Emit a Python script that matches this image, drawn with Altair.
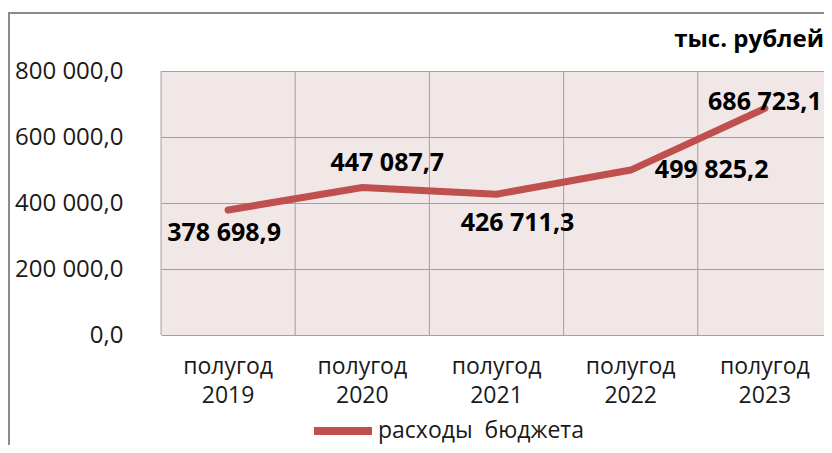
import altair as alt
import pandas as pd

periods = ["полугод 2019", "полугод 2020", "полугод 2021", "полугод 2022", "полугод 2023"]
expenses = [378698.9, 447087.7, 426711.3, 499825.2, 686723.1]
series_name = "расходы\u00a0\u00a0бюджета"
unit_label = "тыс. рублей"
y_ticks = [0, 200000, 400000, 600000, 800000]

df = pd.DataFrame({"period": periods, "value": expenses, "series": [series_name] * len(periods)})

FONT = "Open Sans"
RED = "#C0504D"
GRID = "#A0A0A0"
TXT = "#1a1a1a"
BG = "#F2E7E7"

W, H = 663, 264

x_axis = alt.Axis(title=None, grid=False, ticks=False, domain=False,
                  labelExpr="split(datum.value, ' ')", labelAngle=0,
                  labelFont=FONT, labelFontSize=23, labelColor=TXT,
                  labelLineHeight=29, labelPadding=20)
x_scale = alt.Scale(paddingInner=0, paddingOuter=0, range=[0, 671])


def xenc(**kw):
    return alt.X("period:N", sort=periods, scale=x_scale, axis=x_axis, **kw)


y_enc = alt.Y("value:Q", scale=alt.Scale(domain=[0, 800000], nice=False),
              axis=alt.Axis(title=None, values=y_ticks, format=",.1f", grid=True,
                            gridColor=GRID, ticks=False, domain=False,
                            labelFont=FONT, labelFontSize=24, labelColor=TXT,
                            labelPadding=38))

base = alt.Chart(df)

frame = alt.Chart(pd.DataFrame({"a": [0]})).mark_rect(
    fillOpacity=0, stroke="#8c8c8c", strokeWidth=2
).encode(x=alt.value(-152), x2=alt.value(720), y=alt.value(-58), y2=alt.value(460))

vgrid = base.mark_rule(color=GRID, strokeWidth=1).encode(
    x=xenc(bandPosition=0),
)

line = base.mark_line(strokeWidth=7, strokeCap="round", strokeJoin="round").encode(
    x=xenc(), y=y_enc,
    color=alt.Color("series:N", scale=alt.Scale(domain=[series_name], range=[RED]),
                    legend=alt.Legend(title=None, orient="none", legendX=149, legendY=327,
                                      symbolType="stroke", symbolSize=3364,
                                      symbolStrokeWidth=8, labelFont=FONT,
                                      labelFontSize=23, labelColor=TXT,
                                      labelOffset=2, labelLimit=400)),
)

offsets = [(-4, 23), (25, -24), (21, 29), (81, 0), (0, -6)]
labels = []
for p, (dx, dy) in zip(periods, offsets):
    labels.append(
        base.transform_filter(alt.datum.period == p)
        .mark_text(font=FONT, fontSize=25, fontWeight="bold", color="#000000",
                   dx=dx, dy=dy, baseline="middle", align="center")
        .encode(x=xenc(), y=y_enc,
                text=alt.Text("value:Q", format=",.1f"))
    )

unit = alt.Chart(pd.DataFrame({"t": [unit_label]})).mark_text(
    font=FONT, fontSize=24, fontWeight="bold", color="#000000", align="right", baseline="middle"
).encode(text="t:N", x=alt.value(W), y=alt.value(-31))

chart = alt.layer(frame, vgrid, line, *labels, unit).properties(
    width=W, height=H,
    autosize=alt.AutoSizeParams(type="none"),
    padding={"left": 153, "top": 63, "right": 0, "bottom": 110},
).configure_view(fill=BG, stroke=None)

chart.save("out.html", embed_options={
    "renderer": "svg", "actions": False,
    "formatLocale": {"decimal": ",", "thousands": " ", "grouping": [3], "currency": ["", ""]},
})
